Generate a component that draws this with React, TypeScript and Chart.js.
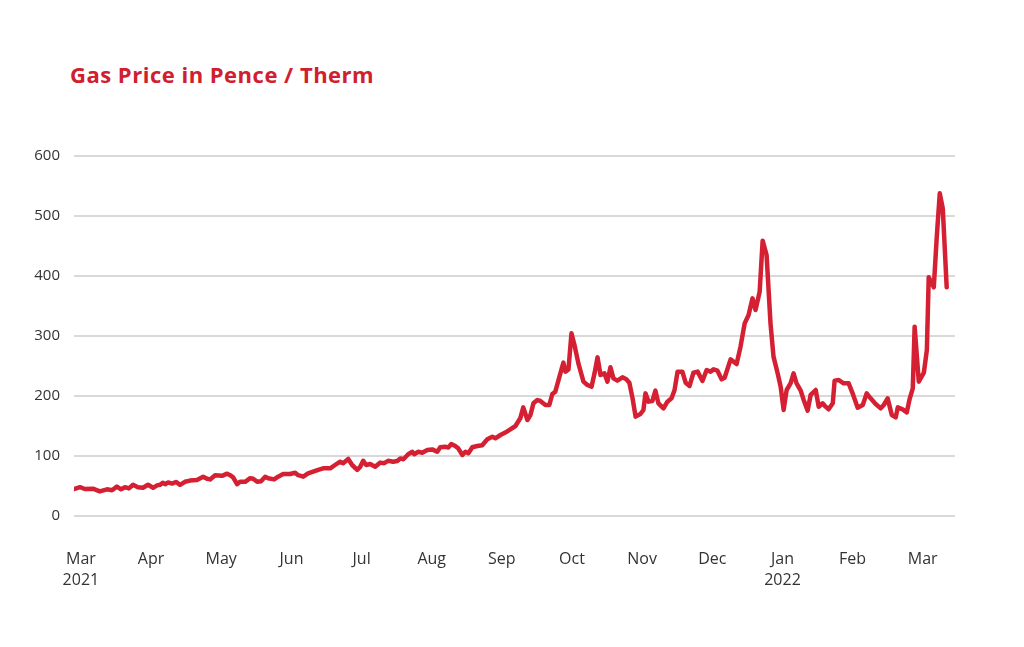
import React, { useEffect, useRef } from 'react';
import { Chart, registerables } from 'chart.js';

Chart.register(...registerables);

// x: days since start of March 2021 (month labels evenly spaced), y: price in pence/therm
const dayOffsets = [
  -3.0, -0.4, 1.7, 5.2, 8.2, 11.3, 13.5, 15.6, 17.4, 19.1, 20.8, 22.6, 24.7, 26.9, 29.1, 31.3, 33.0, 34.3,
  35.6, 36.5, 37.8, 39.5, 41.2, 43.0, 45.1, 47.3, 50.3, 53.0, 54.7, 56.0, 58.2, 61.2, 63.4, 64.7, 66.0, 67.7,
  69.0, 71.2, 73.4, 74.7, 76.4, 78.1, 79.9, 81.2, 83.8, 85.5, 87.7,
  90.7, 92.9, 94.2, 96.4, 98.5, 100.7, 102.9, 105.0, 108.1, 110.2, 112.4, 113.7, 115.9, 117.6, 119.8, 121.1,
  122.4, 123.7, 125.4, 127.6, 129.8, 131.5, 133.2, 135.4, 137.2, 138.5, 139.8, 141.9, 143.7, 144.5, 146.3,
  148.0, 150.2, 152.3, 154.5, 155.8, 158.0, 159.3, 160.6, 162.3, 163.6, 165.4, 166.7, 168.0, 169.7, 171.9,
  174.0, 176.2, 178.4, 179.7, 181.9, 184.0, 186.2,
  188.4, 190.5, 191.8, 193.6, 194.9, 196.2, 197.9, 199.2, 201.4, 203.1, 204.4, 205.7, 207.5, 209.2, 210.1,
  211.4, 212.7, 214.0, 215.7, 217.9, 219.6, 221.4, 222.7, 224.0, 225.3, 227.0, 228.3, 229.6, 230.9, 232.6,
  234.8, 236.5, 237.8, 239.2, 240.5, 242.6, 243.9, 244.8, 246.1, 247.8, 249.1, 250.4, 252.6, 254.3, 256.1,
  257.4, 258.7, 260.8, 262.2, 263.9, 265.6, 267.4, 269.5, 271.3, 273.0, 274.3, 276.0, 277.8, 279.1, 281.7,
  284.3, 286.0, 287.8, 289.5, 291.2, 292.5, 294.3, 295.6, 297.3, 299.0, 300.3, 302.1, 303.4, 304.7, 306.0,
  307.7, 309.0, 310.3, 312.1, 313.4, 315.1, 316.4, 318.6, 319.9, 321.6, 322.9, 324.2, 326.0, 326.8, 328.6,
  330.7, 332.9, 334.6, 336.8, 339.0, 340.7, 342.4, 344.6, 346.8, 348.1, 349.8, 351.6, 353.3, 354.2, 356.3,
  358.1, 359.4, 360.7, 361.5, 363.3, 365.5, 366.8, 367.6, 369.8, 371.1, 372.4, 373.7, 375.4,
];

const prices = [
  45, 48, 45, 45.5, 41, 44.5, 43, 49, 44.5, 48, 46, 52, 48, 47, 52, 47, 51, 52,
  55.5, 53, 56, 54, 56.7, 52, 57, 59, 60, 65.5, 62, 61, 68, 67, 70.5, 68, 64.5, 53,
  57, 57, 63, 62, 57, 58, 65.5, 63, 61, 65.5, 70,
  70, 72, 68, 65.5, 71, 74, 77, 79.5, 79.5, 85, 90.5, 88, 95, 85, 77, 82,
  92, 85, 86.7, 82, 89, 88, 92, 90.5, 91.7, 96, 94.5, 103, 107, 103, 107,
  105.5, 110, 111, 107, 114.5, 115.5, 114, 120, 116.7, 112.8, 101.7, 107, 104.5, 114.5, 116.7,
  118, 127.8, 132, 129.5, 135, 139, 144.5,
  150, 162.8, 181, 160, 168.3, 187.8, 193.3, 191.7, 185, 185, 203.3, 207.2, 232.2, 255.6, 240.6,
  244.4, 304.4, 285, 254.4, 223.9, 218.3, 215.6, 237.8, 264.4, 235, 237.8, 223.9, 247.8, 229.4, 225.6,
  231.1, 227.8, 222.2, 196.1, 165.6, 170, 176.7, 204.4, 190.6, 191.7, 208.9, 187.8, 179.4, 190.6, 196.1,
  210, 240.6, 240.6, 222.2, 216.7, 238.9, 240.6, 225, 243.3, 240.6, 244.4, 242.2, 227.8, 230.5, 261,
  253.3, 282.2, 321.1, 335, 362.8, 343.3, 373.9, 458.9, 435, 321.1, 265.6, 237.8, 215.6, 176.7, 210,
  221.1, 237.8, 221.1, 208.9, 193.3, 175.6, 201.7, 210, 182.2, 187.8, 182.2, 177.8, 187.8, 225.6, 226.7,
  221.1, 221.1, 204.4, 180.6, 185, 204.4, 196.1, 186.7, 179.4, 185, 196.1, 168.3, 164.4, 181.1, 177.8,
  172.8, 196.1, 212.8, 315.6, 223.9, 238.9, 276.7, 397.8, 381.1, 465.6, 537.8, 512.8, 381.1,
];

const monthTickDays = [0, 30.4, 60.8, 91.3, 121.7, 152.1, 182.5, 212.9, 243.3, 273.8, 304.2, 334.6, 365];
const monthLabels = ['Mar', 'Apr', 'May', 'Jun', 'Jul', 'Aug', 'Sep', 'Oct', 'Nov', 'Dec', 'Jan', 'Feb', 'Mar'];
const yearLabels = ['2021', '', '', '', '', '', '', '', '', '', '2022', '', ''];

const TITLE = 'Gas Price in Pence / Therm';
const FONT = "'Open Sans', sans-serif";

export default function App() {
  const ref = useRef<HTMLCanvasElement>(null);

  useEffect(() => {
    if (!ref.current) return;
    const chart = new Chart(ref.current, {
      type: 'line',
      data: {
        datasets: [
          {
            data: dayOffsets.map((d, i) => ({ x: d, y: prices[i] })),
            borderColor: '#d42032',
            borderWidth: 4.5,
            pointRadius: 0,
            tension: 0,
            borderJoinStyle: 'round',
            borderCapStyle: 'round',
          },
        ],
      },
      options: {
        animation: false,
        responsive: false,
        maintainAspectRatio: false,
        layout: { padding: { top: 156, right: 69, bottom: 0, left: 0 } },
        plugins: { legend: { display: false }, tooltip: { enabled: false } },
        scales: {
          x: {
            type: 'linear',
            min: -3,
            max: 379,
            grid: { display: false, drawTicks: false },
            border: { display: false },
            afterBuildTicks: (s: any) => {
              s.ticks = monthTickDays.map((v) => ({ value: v }));
            },
            afterFit: (s: any) => {
              s.height = 131;
            },
            ticks: {
              autoSkip: false,
              maxRotation: 0,
              minRotation: 0,
              padding: 33,
              color: '#333333',
              font: { family: FONT, size: 16, lineHeight: 1.33 },
              callback: (_v: any, i: number) =>
                yearLabels[i] ? [monthLabels[i], yearLabels[i]] : monthLabels[i],
            },
          },
          y: {
            min: 0,
            max: 600,
            afterFit: (s: any) => {
              s.width = 74;
            },
            grid: { color: '#d9d9d9', lineWidth: 2, drawTicks: false },
            border: { display: false },
            ticks: {
              stepSize: 100,
              padding: 14,
              color: '#333333',
              font: { family: FONT, size: 15 },
            },
          },
        },
      },
    });
    return () => chart.destroy();
  }, []);

  return (
    <div style={{ position: 'absolute', left: 0, top: 0, width: 1024, height: 647, background: '#ffffff' }}>
      <div
        style={{
          position: 'absolute',
          left: 70,
          top: 63,
          fontFamily: FONT,
          fontWeight: 700,
          fontSize: 22,
          lineHeight: '22px',
          letterSpacing: '0.5px',
          color: '#d0202f',
          whiteSpace: 'nowrap',
        }}
      >
        {TITLE}
      </div>
      <canvas ref={ref} width={1024} height={647} style={{ position: 'absolute', left: 0, top: 0 }} />
    </div>
  );
}
